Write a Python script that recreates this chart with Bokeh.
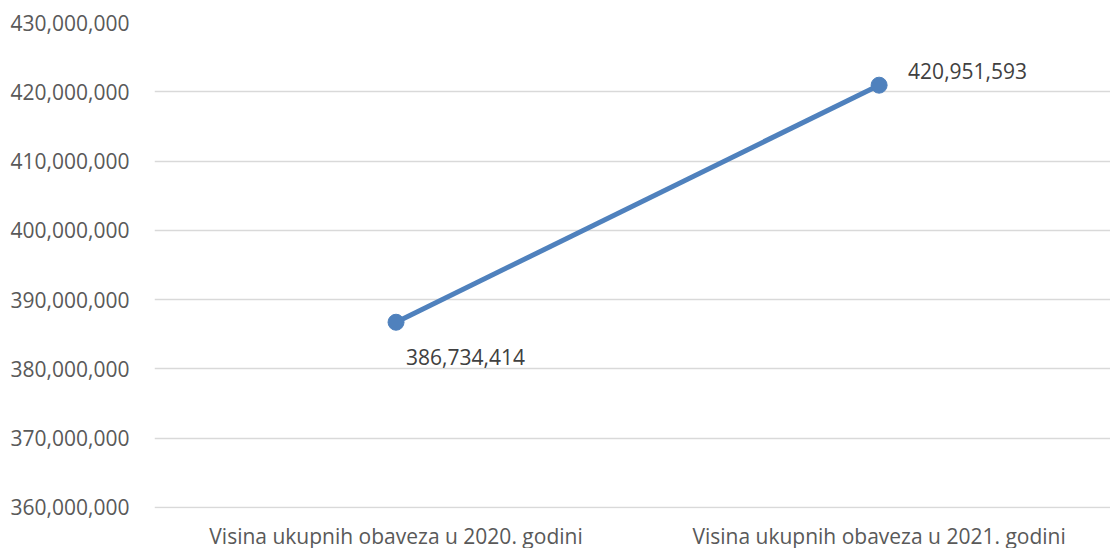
from bokeh.plotting import figure
from bokeh.models import Range1d, FixedTicker, NumeralTickFormatter, ColumnDataSource
from bokeh.core.properties import value
from bokeh.embed import file_html
from bokeh.resources import INLINE

categories = ["Visina ukupnih obaveza u 2020. godini", "Visina ukupnih obaveza u 2021. godini"]
values = [386734414, 420951593]
y_ticks = [360000000, 370000000, 380000000, 390000000, 400000000, 410000000, 420000000, 430000000]

FONT = "Open Sans"
xs = [i + 0.5 for i in range(len(categories))]

p = figure(width=1110, height=548, output_backend="svg", toolbar_location=None,
           x_range=Range1d(0, 1.979), y_range=Range1d(y_ticks[0] - 150000, y_ticks[-1]),
           min_border_left=154, min_border_right=0, min_border_top=22, min_border_bottom=40)
p.frame_width = 956
p.frame_height = 486
p.outline_line_color = None
p.background_fill_color = "white"

p.xgrid.visible = False
p.ygrid.grid_line_color = "#D9D9D9"
p.ygrid.grid_line_width = 1.5
p.yaxis.ticker = FixedTicker(ticks=y_ticks)
p.yaxis.formatter = NumeralTickFormatter(format="0,0")
p.yaxis.axis_line_color = None
p.yaxis.major_tick_line_color = None
p.yaxis.minor_tick_line_color = None
p.yaxis.major_tick_out = 0
p.yaxis.major_label_standoff = 25
p.yaxis.major_label_text_font = FONT
p.yaxis.major_label_text_font_size = "21px"
p.yaxis.major_label_text_color = "#595959"

p.xaxis.ticker = FixedTicker(ticks=xs)
p.xaxis.major_label_overrides = {x: c for x, c in zip(xs, categories)}
p.xaxis.axis_line_color = None
p.xaxis.major_tick_line_color = None
p.xaxis.minor_tick_line_color = None
p.xaxis.major_tick_out = 0
p.xaxis.major_label_standoff = 13
p.xaxis.major_label_text_font = FONT
p.xaxis.major_label_text_font_size = "21px"
p.xaxis.major_label_text_color = "#595959"

src = ColumnDataSource(dict(x=xs, y=values,
                            label=[f"{v:,}" for v in values],
                            xo=[10, 29], yo=[35, -14]))
p.line("x", "y", source=src, line_color="#4F81BD", line_width=5)
p.scatter("x", "y", source=src, size=16, fill_color="#4F81BD", line_color="#4F81BD")
p.text("x", "y", text="label", source=src, x_offset="xo", y_offset="yo",
       text_font=value(FONT), text_font_size="21px", text_color="#404040",
       text_align="left", text_baseline="middle")

open("out.html", "w").write(file_html(p, INLINE))
